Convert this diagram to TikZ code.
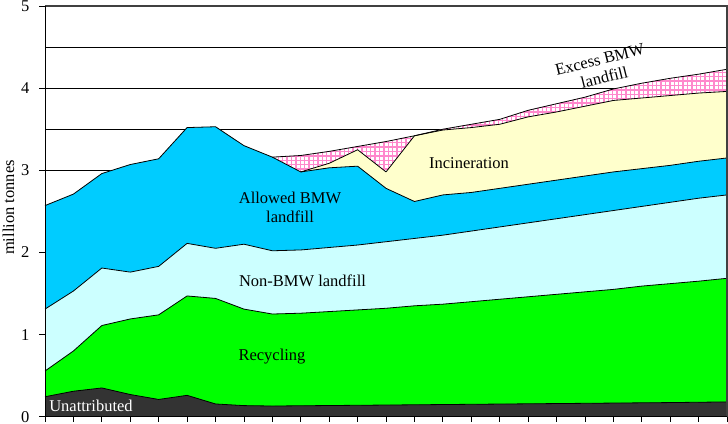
\documentclass[tikz,border=0pt]{standalone}
\usepackage{fontspec}
\setmainfont{Liberation Serif}
\definecolor{unat}{HTML}{333333}
\definecolor{recyc}{HTML}{00FF00}
\definecolor{nonbmw}{HTML}{CCFFFF}
\definecolor{allowed}{HTML}{00CCFF}
\definecolor{incin}{HTML}{FFFFCC}
\definecolor{hatchc}{HTML}{FF88CC}
\definecolor{framec}{HTML}{404040}
\begin{document}
\begin{tikzpicture}[x=1pt,y=1pt, font=\fontsize{16.5}{19}\selectfont,
  lbl/.style={inner sep=0pt, anchor=base},
  rlbl/.style={inner sep=0pt, rotate=14},
  serieline/.style={black, line width=0.8pt, line join=round},
  gridline/.style={black, line width=0.8pt},
  axisline/.style={black, line width=0.8pt},
  hatchline/.style={hatchc, line width=1.4pt}]
\useasboundingbox (0,0) rectangle (728,423);
\fill[white] (0,0) rectangle (728,423);
\begin{scope}[shift={(45pt,6.3pt)}, x=28.42pt, y=82.14pt]
  % grid
  \foreach \v in {0.5,1,1.5,2,2.5,3,3.5,4,4.5} \draw[gridline] (0,\v) -- (24,\v);
  % excess BMW landfill (hatched)
  \begin{scope}
    \clip (0,0) -- (0,2.57) -- (1,2.71) -- (2,2.96) -- (3,3.07) -- (4,3.14) -- (5,3.52) -- (6,3.53) -- (7,3.30) -- (8,3.16) -- (9,3.18) -- (10,3.23) -- (11,3.29) -- (12,3.35) -- (13,3.42) -- (14,3.50) -- (15,3.56) -- (16,3.62) -- (17,3.73) -- (18,3.81) -- (19,3.89) -- (20,3.99) -- (21,4.06) -- (22,4.12) -- (23,4.17) -- (24,4.23) -- (24,0) -- cycle;
    \fill[white] (0,0) rectangle (24,5);
    \foreach \i in {0,...,108} \draw[hatchline] ({7.9+\i*0.15482},2.8) -- ({7.9+\i*0.15482},4.4);
    \foreach \j in {0,...,30} \draw[hatchline] (7.9,{2.8+\j*0.05357}) -- (24.1,{2.8+\j*0.05357});
  \end{scope}
  % incineration
  \fill[incin] (0,0) -- (0,2.57) -- (1,2.71) -- (2,2.96) -- (3,3.07) -- (4,3.14) -- (5,3.52) -- (6,3.53) -- (7,3.30) -- (8,3.16) -- (9,2.98) -- (10,3.085) -- (11,3.25) -- (12,2.98) -- (13,3.42) -- (14,3.49) -- (15,3.52) -- (16,3.56) -- (17,3.65) -- (18,3.71) -- (19,3.78) -- (20,3.85) -- (21,3.88) -- (22,3.91) -- (23,3.94) -- (24,3.96) -- (24,0) -- cycle;
  % allowed BMW landfill
  \fill[allowed] (0,0) -- (0,2.57) -- (1,2.71) -- (2,2.96) -- (3,3.07) -- (4,3.14) -- (5,3.52) -- (6,3.53) -- (7,3.30) -- (8,3.16) -- (9,2.98) -- (10,3.03) -- (11,3.05) -- (12,2.78) -- (13,2.62) -- (14,2.70) -- (15,2.73) -- (16,2.78) -- (17,2.83) -- (18,2.88) -- (19,2.93) -- (20,2.98) -- (21,3.02) -- (22,3.06) -- (23,3.11) -- (24,3.15) -- (24,0) -- cycle;
  % non-BMW landfill
  \fill[nonbmw] (0,0) -- (0,1.31) -- (1,1.53) -- (2,1.81) -- (3,1.76) -- (4,1.83) -- (5,2.11) -- (6,2.05) -- (7,2.10) -- (8,2.02) -- (9,2.03) -- (10,2.06) -- (11,2.09) -- (12,2.13) -- (13,2.17) -- (14,2.21) -- (15,2.26) -- (16,2.31) -- (17,2.36) -- (18,2.41) -- (19,2.46) -- (20,2.51) -- (21,2.56) -- (22,2.61) -- (23,2.66) -- (24,2.70) -- (24,0) -- cycle;
  % recycling
  \fill[recyc] (0,0) -- (0,0.556) -- (1,0.80) -- (2,1.11) -- (3,1.19) -- (4,1.24) -- (5,1.47) -- (6,1.44) -- (7,1.31) -- (8,1.25) -- (9,1.26) -- (10,1.28) -- (11,1.30) -- (12,1.32) -- (13,1.35) -- (14,1.37) -- (15,1.40) -- (16,1.43) -- (17,1.46) -- (18,1.49) -- (19,1.52) -- (20,1.55) -- (21,1.59) -- (22,1.62) -- (23,1.65) -- (24,1.685) -- (24,0) -- cycle;
  % unattributed
  \fill[unat] (0,0) -- (0,0.243) -- (1,0.31) -- (2,0.35) -- (3,0.27) -- (4,0.21) -- (5,0.26) -- (6,0.155) -- (7,0.135) -- (8,0.13) -- (9,0.133) -- (10,0.136) -- (11,0.139) -- (12,0.142) -- (13,0.145) -- (14,0.148) -- (15,0.151) -- (16,0.154) -- (17,0.157) -- (18,0.16) -- (19,0.163) -- (20,0.166) -- (21,0.169) -- (22,0.172) -- (23,0.176) -- (24,0.18) -- (24,0) -- cycle;
  % series outlines
  \draw[serieline] (8,3.16) -- (9,3.18) -- (10,3.23) -- (11,3.29) -- (12,3.35) -- (13,3.42) -- (14,3.50) -- (15,3.56) -- (16,3.62) -- (17,3.73) -- (18,3.81) -- (19,3.89) -- (20,3.99) -- (21,4.06) -- (22,4.12) -- (23,4.17) -- (24,4.23);
  \draw[serieline] (9,2.98) -- (10,3.085) -- (11,3.25) -- (12,2.98) -- (13,3.42) -- (14,3.49) -- (15,3.52) -- (16,3.56) -- (17,3.65) -- (18,3.71) -- (19,3.78) -- (20,3.85) -- (21,3.88) -- (22,3.91) -- (23,3.94) -- (24,3.96);
  \draw[serieline] (0,2.57) -- (1,2.71) -- (2,2.96) -- (3,3.07) -- (4,3.14) -- (5,3.52) -- (6,3.53) -- (7,3.30) -- (8,3.16) -- (9,2.98) -- (10,3.03) -- (11,3.05) -- (12,2.78) -- (13,2.62) -- (14,2.70) -- (15,2.73) -- (16,2.78) -- (17,2.83) -- (18,2.88) -- (19,2.93) -- (20,2.98) -- (21,3.02) -- (22,3.06) -- (23,3.11) -- (24,3.15);
  \draw[serieline] (0,1.31) -- (1,1.53) -- (2,1.81) -- (3,1.76) -- (4,1.83) -- (5,2.11) -- (6,2.05) -- (7,2.10) -- (8,2.02) -- (9,2.03) -- (10,2.06) -- (11,2.09) -- (12,2.13) -- (13,2.17) -- (14,2.21) -- (15,2.26) -- (16,2.31) -- (17,2.36) -- (18,2.41) -- (19,2.46) -- (20,2.51) -- (21,2.56) -- (22,2.61) -- (23,2.66) -- (24,2.70);
  \draw[serieline] (0,0.556) -- (1,0.80) -- (2,1.11) -- (3,1.19) -- (4,1.24) -- (5,1.47) -- (6,1.44) -- (7,1.31) -- (8,1.25) -- (9,1.26) -- (10,1.28) -- (11,1.30) -- (12,1.32) -- (13,1.35) -- (14,1.37) -- (15,1.40) -- (16,1.43) -- (17,1.46) -- (18,1.49) -- (19,1.52) -- (20,1.55) -- (21,1.59) -- (22,1.62) -- (23,1.65) -- (24,1.685);
  \draw[serieline] (0,0.243) -- (1,0.31) -- (2,0.35) -- (3,0.27) -- (4,0.21) -- (5,0.26) -- (6,0.155) -- (7,0.135) -- (8,0.13) -- (9,0.133) -- (10,0.136) -- (11,0.139) -- (12,0.142) -- (13,0.145) -- (14,0.148) -- (15,0.151) -- (16,0.154) -- (17,0.157) -- (18,0.16) -- (19,0.163) -- (20,0.166) -- (21,0.169) -- (22,0.172) -- (23,0.176) -- (24,0.18);
  % plot frame
  \draw[framec, line width=1.3pt] (0,5) -- (24,5) -- (24,0);
  % axes
  \draw[axisline] (0,0) -- (0,5);
  \foreach \v in {0,...,5} \draw[axisline] ([xshift=-6pt]0,\v) -- (0,\v);
  \draw[axisline] (0,0) -- (24,0);
  \foreach \k in {0,...,24} \draw[axisline] (\k,0) -- ([yshift=-5pt]\k,0);
\end{scope}
% y-axis numbers and title
\foreach \v in {0,...,5} \node[anchor=east, inner sep=0pt] (ytick\v) at (29.5,{6.3+82.14*\v}) {\v};
\node[rotate=90, inner sep=0pt] (ytitle) at (8.5,215.5) {million tonnes};
% series labels
\node[lbl, text=white] (unatlbl) at (91,11.3) {Unattributed};
\node[lbl] (recylbl) at (272,62) {Recycling};
\node[lbl] (nonblbl) at (302.5,136.3) {Non-BMW landfill};
\node[lbl] (allwlblA) at (290,219) {Allowed BMW};
\node[lbl] (allwlblB) at (290,200.3) {landfill};
\node[lbl] (incilbl) at (469,254) {Incineration};
\node[rlbl] (exclblA) at (599.8,363.3) {Excess BMW};
\node[rlbl] (exclblB) at (604.2,345.7) {landfill};
\end{tikzpicture}
\end{document}
